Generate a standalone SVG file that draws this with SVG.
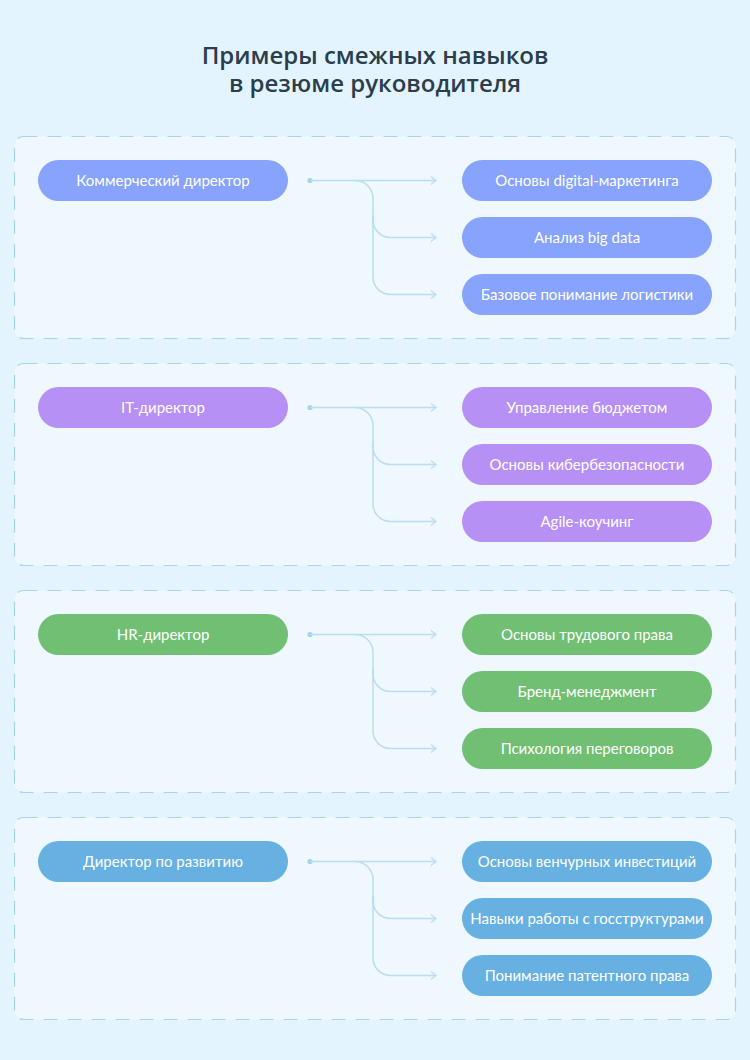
<svg xmlns="http://www.w3.org/2000/svg" width="750" height="1060" viewBox="0 0 750 1060">
<defs>
<style>
.bg{fill:#e3f4fe}
.panel{fill:#eef8fe;stroke:#a8d3ec;stroke-width:1.2;stroke-dasharray:14 10}
.title{font-family:"Open Sans","Liberation Sans",sans-serif;font-size:24px;font-weight:600;fill:#2b3e4c;text-anchor:middle}
.lbl{font-family:"Lato","Liberation Sans",sans-serif;font-size:15px;fill:#ffffff;text-anchor:middle}
.c1{fill:#87a3fc}.c2{fill:#b690f5}.c3{fill:#70bf73}.c4{fill:#67b0e2}
.conn{fill:none;stroke:#bcdcf0;stroke-width:1.5}
.dot{fill:#a9d1ea}
</style>
<marker id="arr" markerWidth="10" markerHeight="10" refX="6" refY="5" orient="auto" markerUnits="userSpaceOnUse">
<path d="M1,1 L6,5 L1,9" fill="none" stroke="#bcdcf0" stroke-width="1.3"/>
</marker>
</defs>
<rect class="bg" x="0" y="0" width="750" height="1060"/>
<g id="title">
<text class="title" x="375" y="64">Примеры смежных навыков</text>
<text class="title" x="375" y="92">в резюме руководителя</text>
</g>
<g id="panels">
<rect class="panel" x="14.5" y="136.5" width="721" height="202" rx="9"/>
<rect class="panel" x="14.5" y="363.5" width="721" height="202" rx="9"/>
<rect class="panel" x="14.5" y="590.5" width="721" height="202" rx="9"/>
<rect class="panel" x="14.5" y="817.5" width="721" height="202" rx="9"/>
</g>
<g id="connectors">
<g transform="translate(0,0)">
<circle class="dot" cx="310" cy="180.5" r="2.6"/>
<path class="conn" marker-end="url(#arr)" d="M310,180.5 H436"/>
<path class="conn" marker-end="url(#arr)" d="M355,180.5 A18,18 0 0 1 373,198.5 V220 A17.5,17.5 0 0 0 390.5,237.5 H436"/>
<path class="conn" marker-end="url(#arr)" d="M373,215 V277 A17.5,17.5 0 0 0 390.5,294.5 H436"/>
</g>
<g transform="translate(0,227)">
<circle class="dot" cx="310" cy="180.5" r="2.6"/>
<path class="conn" marker-end="url(#arr)" d="M310,180.5 H436"/>
<path class="conn" marker-end="url(#arr)" d="M355,180.5 A18,18 0 0 1 373,198.5 V220 A17.5,17.5 0 0 0 390.5,237.5 H436"/>
<path class="conn" marker-end="url(#arr)" d="M373,215 V277 A17.5,17.5 0 0 0 390.5,294.5 H436"/>
</g>
<g transform="translate(0,454)">
<circle class="dot" cx="310" cy="180.5" r="2.6"/>
<path class="conn" marker-end="url(#arr)" d="M310,180.5 H436"/>
<path class="conn" marker-end="url(#arr)" d="M355,180.5 A18,18 0 0 1 373,198.5 V220 A17.5,17.5 0 0 0 390.5,237.5 H436"/>
<path class="conn" marker-end="url(#arr)" d="M373,215 V277 A17.5,17.5 0 0 0 390.5,294.5 H436"/>
</g>
<g transform="translate(0,681)">
<circle class="dot" cx="310" cy="180.5" r="2.6"/>
<path class="conn" marker-end="url(#arr)" d="M310,180.5 H436"/>
<path class="conn" marker-end="url(#arr)" d="M355,180.5 A18,18 0 0 1 373,198.5 V220 A17.5,17.5 0 0 0 390.5,237.5 H436"/>
<path class="conn" marker-end="url(#arr)" d="M373,215 V277 A17.5,17.5 0 0 0 390.5,294.5 H436"/>
</g>
</g>
<g id="n1"><rect class="c1" x="38" y="160" width="250" height="41" rx="20.5"/><text class="lbl" x="163" y="186">Коммерческий директор</text></g>
<g id="n1a"><rect class="c1" x="462" y="160" width="250" height="41" rx="20.5"/><text class="lbl" x="587" y="186">Основы digital-маркетинга</text></g>
<g id="n1b"><rect class="c1" x="462" y="217" width="250" height="41" rx="20.5"/><text class="lbl" x="587" y="243">Анализ big data</text></g>
<g id="n1c"><rect class="c1" x="462" y="274" width="250" height="41" rx="20.5"/><text class="lbl" x="587" y="300">Базовое понимание логистики</text></g>
<g id="n2"><rect class="c2" x="38" y="387" width="250" height="41" rx="20.5"/><text class="lbl" x="163" y="413">IT-директор</text></g>
<g id="n2a"><rect class="c2" x="462" y="387" width="250" height="41" rx="20.5"/><text class="lbl" x="587" y="413">Управление бюджетом</text></g>
<g id="n2b"><rect class="c2" x="462" y="444" width="250" height="41" rx="20.5"/><text class="lbl" x="587" y="470">Основы кибербезопасности</text></g>
<g id="n2c"><rect class="c2" x="462" y="501" width="250" height="41" rx="20.5"/><text class="lbl" x="587" y="527">Agile-коучинг</text></g>
<g id="n3"><rect class="c3" x="38" y="614" width="250" height="41" rx="20.5"/><text class="lbl" x="163" y="640">HR-директор</text></g>
<g id="n3a"><rect class="c3" x="462" y="614" width="250" height="41" rx="20.5"/><text class="lbl" x="587" y="640">Основы трудового права</text></g>
<g id="n3b"><rect class="c3" x="462" y="671" width="250" height="41" rx="20.5"/><text class="lbl" x="587" y="697">Бренд-менеджмент</text></g>
<g id="n3c"><rect class="c3" x="462" y="728" width="250" height="41" rx="20.5"/><text class="lbl" x="587" y="754">Психология переговоров</text></g>
<g id="n4"><rect class="c4" x="38" y="841" width="250" height="41" rx="20.5"/><text class="lbl" x="163" y="867">Директор по развитию</text></g>
<g id="n4a"><rect class="c4" x="462" y="841" width="250" height="41" rx="20.5"/><text class="lbl" x="587" y="867">Основы венчурных инвестиций</text></g>
<g id="n4b"><rect class="c4" x="462" y="898" width="250" height="41" rx="20.5"/><text class="lbl" x="587" y="924">Навыки работы с госструктурами</text></g>
<g id="n4c"><rect class="c4" x="462" y="955" width="250" height="41" rx="20.5"/><text class="lbl" x="587" y="981">Понимание патентного права</text></g>
</svg>
